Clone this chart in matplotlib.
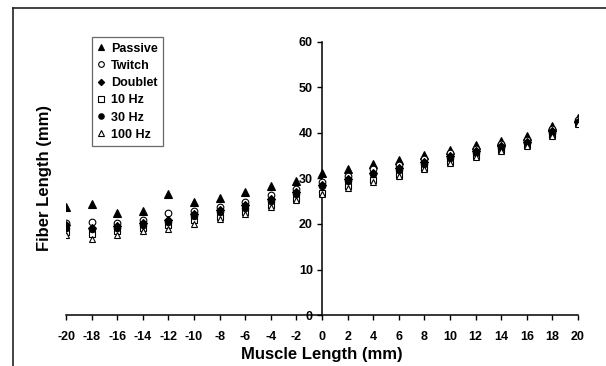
import matplotlib
matplotlib.use("Agg")
import matplotlib.pyplot as plt
from matplotlib.lines import Line2D

plt.rcParams['font.family'] = ['Liberation Sans', 'DejaVu Sans']
plt.rcParams['font.weight'] = 'bold'
plt.rcParams['axes.unicode_minus'] = False

muscle_length = [-20, -18, -16, -14, -12, -10, -8, -6, -4, -2, 0,
                 2, 4, 6, 8, 10, 12, 14, 16, 18, 20]

passive = [23.7, 24.5, 22.5, 22.9, 26.7, 24.9, 25.8, 27.0, 28.4, 29.5, 31.2,
           32.0, 33.1, 34.1, 35.2, 36.3, 37.3, 38.3, 39.3, 41.5, 43.2]
twitch = [20.3, 20.5, 20.3, 20.9, 22.5, 22.9, 23.8, 24.9, 26.4, 27.8, 29.2,
          30.5, 32.0, 33.0, 34.2, 35.5, 36.5, 37.5, 38.5, 40.9, 42.8]
doublet = [19.8, 19.2, 19.6, 20.3, 20.9, 22.2, 23.1, 24.2, 25.6, 27.1, 28.6,
           29.8, 31.3, 32.4, 33.6, 35.0, 36.0, 37.1, 38.0, 40.4, 42.5]
hz10 = [18.3, 17.8, 18.5, 19.2, 19.8, 20.9, 21.6, 22.7, 24.2, 25.6, 26.9,
        28.3, 29.7, 30.8, 32.3, 33.6, 34.9, 36.2, 37.4, 39.6, 42.1]
hz30 = [19.2, 18.8, 19.2, 19.8, 20.5, 21.8, 22.6, 23.6, 25.0, 26.5, 28.3,
        29.4, 30.9, 31.9, 33.2, 34.6, 35.6, 36.8, 37.8, 40.1, 42.4]
hz100 = [17.6, 16.6, 17.6, 18.5, 19.0, 20.1, 21.1, 22.2, 23.7, 25.3, 26.5,
         28.0, 29.3, 30.6, 32.0, 33.4, 34.7, 36.0, 37.2, 39.4, 41.9]

series = [
    ("Passive", passive, '^', 'black'),
    ("Twitch", twitch, 'o', 'white'),
    ("Doublet", doublet, 'D', 'black'),
    ("10 Hz", hz10, 's', 'white'),
    ("30 Hz", hz30, 'o', 'black'),
    ("100 Hz", hz100, '^', 'white'),
]
sizes = {"Passive": 5.2, "Twitch": 4.8, "Doublet": 3.8, "10 Hz": 4.3, "30 Hz": 4.6, "100 Hz": 4.8}

fig = plt.figure(figsize=(6.06, 3.66), dpi=100)
ax = fig.add_axes([66/606, 1-315/366, 512/606, 273/366])

for name, vals, m, fc in series:
    ax.plot(muscle_length, vals, linestyle='none', marker=m, markersize=sizes[name],
            markerfacecolor=fc, markeredgecolor='black', markeredgewidth=0.8,
            label=name, zorder=3)

ax.set_xlim(-20, 20)
ax.set_ylim(0, 60)
ax.spines['left'].set_position(('data', 0))
ax.spines['bottom'].set_position(('data', 0))
ax.spines['top'].set_visible(False)
ax.spines['right'].set_visible(False)
for s in ('left', 'bottom'):
    ax.spines[s].set_linewidth(1.1)
ax.set_xticks(list(range(-20, 21, 2)))
ax.set_yticks(list(range(0, 61, 10)))
ax.tick_params(axis='x', direction='out', length=3.5, width=1, pad=8, labelsize=9)
ax.tick_params(axis='y', direction='out', length=3.5, width=1, pad=3, labelsize=9)
for lab in ax.get_xticklabels() + ax.get_yticklabels():
    lab.set_fontweight('bold')

ax.set_xlabel("Muscle Length (mm)", fontsize=12, fontweight='bold')
ax.set_ylabel("Fiber Length (mm)", fontsize=12, fontweight='bold')
ax.yaxis.set_label_coords((45-66)/512, 0.5)
ax.xaxis.set_label_coords(0.5, (315-355)/273)
ax.xaxis.label.set_verticalalignment('center')
ax.yaxis.label.set_verticalalignment('center')

leg = ax.legend(loc='upper left', bbox_to_anchor=(26/512, (315-37)/273),
                borderaxespad=0, frameon=True, fancybox=False,
                prop={'weight': 'bold', 'size': 9}, handlelength=0.6,
                handletextpad=0.45, labelspacing=0.42, borderpad=0.45,
                markerscale=0.85)
leg.get_frame().set_edgecolor('#444444')
leg.get_frame().set_linewidth(0.9)

fig.add_artist(Line2D([13/606, 13/606], [0, 1-8/366], color='#222222', lw=1.2,
                      transform=fig.transFigure))
fig.add_artist(Line2D([13/606, 1], [1-8/366, 1-8/366], color='#222222', lw=1.2,
                      transform=fig.transFigure))

fig.savefig("out.png", dpi=100)
